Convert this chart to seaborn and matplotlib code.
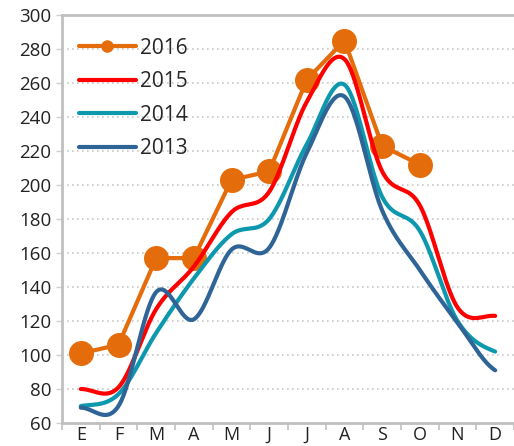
import numpy as np
import pandas as pd
import matplotlib
matplotlib.use('Agg')
import matplotlib.pyplot as plt
from matplotlib.lines import Line2D
import seaborn as sns

# monthly values
months = ['E', 'F', 'M', 'A', 'M', 'J', 'J', 'A', 'S', 'O', 'N', 'D']
y2016 = [101, 106, 157, 157, 203, 208, 262, 285, 223, 212]
y2015 = [80, 81, 127, 152, 184, 196, 249, 274, 208, 188, 128, 123]
y2014 = [70, 77, 113, 145, 171, 180, 224, 259, 193, 173, 120, 102]
y2013 = [69, 70, 137, 121, 162, 163, 219, 252, 185, 150, 119, 91]

colors = {'2016': '#E46C0A', '2015': '#FF0000', '2014': '#0E98AE', '2013': '#2F6496'}


def smooth(values, n=40):
    """Catmull-Rom curve through the points, like Excel's smoothed line"""
    p = np.asarray(values, dtype=float)
    pad = np.concatenate([[p[0]], p, [p[-1]]])
    xs, ys = [], []
    for i in range(len(p) - 1):
        p0, p1, p2, p3 = pad[i], pad[i + 1], pad[i + 2], pad[i + 3]
        t = np.linspace(0, 1, n, endpoint=False)
        y = 0.5 * ((2 * p1) + (-p0 + p2) * t + (2 * p0 - 5 * p1 + 4 * p2 - p3) * t ** 2
                   + (-p0 + 3 * p1 - 3 * p2 + p3) * t ** 3)
        xs.extend(i + t)
        ys.extend(y)
    xs.append(len(p) - 1)
    ys.append(p[-1])
    return np.array(xs), np.array(ys)


sns.set_style('white')
plt.rcParams['font.family'] = ['Open Sans', 'DejaVu Sans']

fig = plt.figure(figsize=(5.14, 4.46), dpi=100)
ax = fig.add_axes([62 / 514, 23 / 446, 452 / 514, 408 / 446])

df16 = pd.DataFrame({'x': range(len(y2016)), 'y': y2016})
sns.lineplot(data=df16, x='x', y='y', ax=ax, color=colors['2016'], lw=3, marker='o',
             markersize=18, markeredgewidth=0, zorder=3)

for name, vals in [('2015', y2015), ('2014', y2014), ('2013', y2013)]:
    sx, sy = smooth(vals)
    sns.lineplot(x=sx, y=sy, ax=ax, color=colors[name], lw=3, zorder=4, estimator=None)

ax.set_xlim(-0.5, 11.5)
ax.set_ylim(60, 300)
ax.set_yticks(range(60, 301, 20))
ax.set_xticks(range(12))
ax.set_xticklabels(months)
ax.set_xticks(np.arange(-0.5, 12, 1), minor=True)
ax.set_xlabel('')
ax.set_ylabel('')

ax.grid(axis='y', color='#c8c8c8', ls=(0, (1, 2)), lw=1.2)
ax.grid(axis='x', visible=False)
ax.tick_params(axis='x', which='major', length=0, labelsize=13, colors='#222222', pad=2)
ax.tick_params(axis='x', which='minor', length=5, width=1.2, color='#c0c0c0', direction='out', bottom=True)
ax.tick_params(axis='y', length=4, width=1, color='#d0d0d0', labelsize=13.5, labelcolor='#222222', left=True)

for side in ['left', 'bottom', 'top']:
    ax.spines[side].set_color('#c0c0c0')
    ax.spines[side].set_linewidth(2)
ax.spines['right'].set_visible(False)

handles = [
    Line2D([], [], color=colors['2016'], lw=3, marker='o', markersize=9, markeredgewidth=0),
    Line2D([], [], color=colors['2015'], lw=3),
    Line2D([], [], color=colors['2014'], lw=3),
    Line2D([], [], color=colors['2013'], lw=3),
]
ax.legend(handles, ['2016', '2015', '2014', '2013'], loc='upper left', frameon=False,
          fontsize=15, handlelength=2.7, handletextpad=0.2, labelspacing=0.6,
          bbox_to_anchor=(0.02, 0.965), borderaxespad=0)

fig.savefig('out.png', dpi=100)
